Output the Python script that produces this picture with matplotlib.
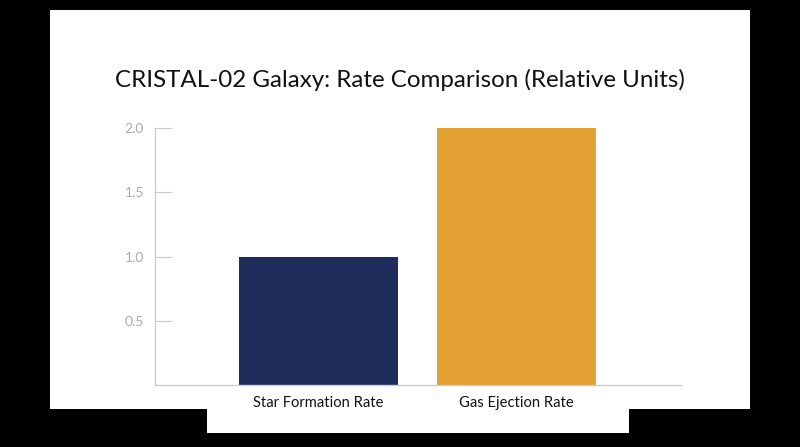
import matplotlib.pyplot as plt
from matplotlib.patches import Rectangle

# Donnees du graphique
categories = ['Star Formation Rate', 'Gas Ejection Rate']
valeurs = [1.0, 2.0]
couleurs = ['#1f2d5c', '#e3a033']
yticks = [0.5, 1.0, 1.5, 2.0]

W, H = 800, 447
fig = plt.figure(figsize=(W / 100, H / 100), dpi=100)
fig.patch.set_facecolor('black')

# Panneaux blancs (capture d'une diapo)
fig.patches.append(Rectangle((50 / W, 1 - 409 / H), 700 / W, 399 / H,
                             transform=fig.transFigure, facecolor='white', edgecolor='none', zorder=0))
fig.patches.append(Rectangle((207 / W, 1 - 433 / H), 422 / W, 25 / H,
                             transform=fig.transFigure, facecolor='white', edgecolor='none', zorder=0))

ax = fig.add_axes([155 / W, 1 - 385 / H, 526 / W, 257 / H])
ax.set_zorder(2)
ax.set_facecolor('none')
ax.bar(range(len(categories)), valeurs, width=0.8, color=couleurs)

ax.set_xlim(-0.826, 1.831)
ax.set_ylim(0, 2.0)
ax.set_xticks(range(len(categories)))
ax.set_xticklabels(categories, fontsize=10.6, color='#111111', family='Lato')
ax.set_yticks(yticks)
ax.set_yticklabels([f'{v:.1f}' for v in yticks], fontsize=10, color='#aaaaaa', family='Lato')

ax.tick_params(axis='x', length=0, pad=8)
ax.tick_params(axis='y', direction='in', length=12, color='#cccccc', pad=8)

for s in ['top', 'right']:
    ax.spines[s].set_visible(False)
for s in ['left', 'bottom']:
    ax.spines[s].set_color('#cccccc')
    ax.spines[s].set_linewidth(1)

fig.text(400 / W, 1 - 80 / H, 'CRISTAL-02 Galaxy: Rate Comparison (Relative Units)',
         ha='center', va='center', fontsize=17.4, color='#111111', family='Lato', zorder=3)

fig.savefig('out.png', dpi=100, facecolor=fig.get_facecolor())
